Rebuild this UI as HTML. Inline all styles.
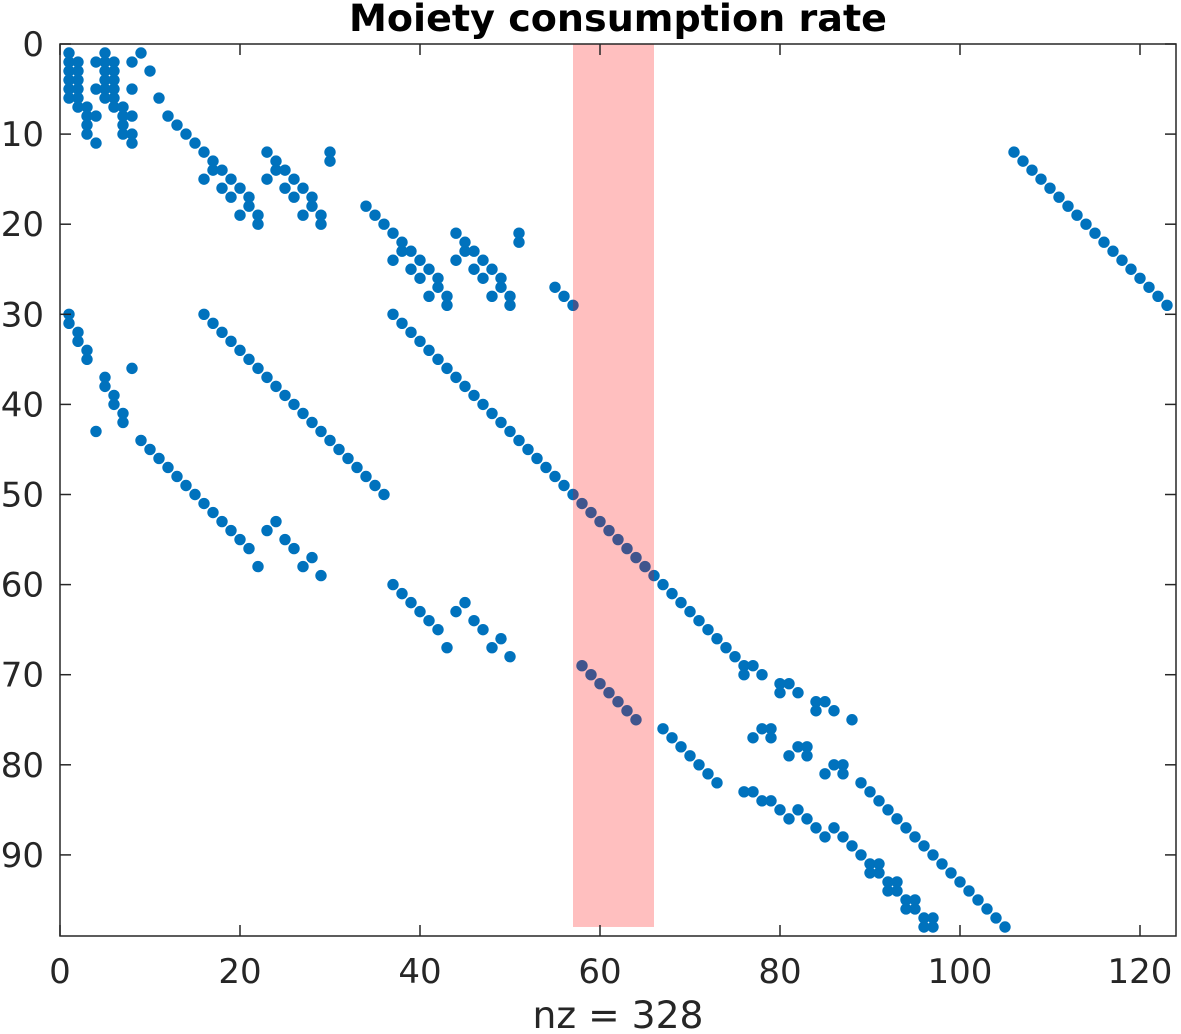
<!DOCTYPE html>
<html><head><meta charset="utf-8"><style>
html,body{margin:0;padding:0;background:#fff;width:1181px;height:1034px;overflow:hidden}
svg text{font-family:"DejaVu Sans","Liberation Sans",sans-serif;fill:#262626}
</style></head><body>
<svg id="chart" width="1181" height="1034" xmlns="http://www.w3.org/2000/svg"></svg>
<script>
const xTicks=[0,20,40,60,80,100,120];
const yTicks=[0,10,20,30,40,50,60,70,80,90];
const xLim=[0,124];
const yLim=[0,99];
const highlightCols=[57,66];
const highlightRows=[0,98];
const nonzeros=[
[1,1],[1,2],[1,3],[1,4],[1,5],[1,6],
[2,2],[2,3],[2,4],[2,5],[2,6],[2,7],
[3,7],[3,8],[3,9],[3,10],
[4,2],[4,5],[4,8],[4,11],
[5,1],[5,2],[5,3],[5,4],[5,5],[5,6],
[6,2],[6,3],[6,4],[6,5],[6,6],[6,7],
[7,7],[7,8],[7,9],[7,10],
[8,2],[8,5],[8,8],[8,10],[8,11],
[9,1],[10,3],[11,6],[12,8],[13,9],[14,10],[15,11],[16,12],[16,15],[17,13],[17,14],[18,14],[18,16],[19,15],[19,17],[20,16],[20,19],[21,17],[21,18],[22,19],[22,20],
[23,12],[23,15],[24,13],[24,14],[25,14],[25,16],[26,15],[26,17],[27,16],[27,19],[28,17],[28,18],[29,19],[29,20],[30,12],[30,13],
[34,18],[35,19],[36,20],[37,21],[37,24],[38,22],[38,23],[39,23],[39,25],[40,24],[40,26],[41,25],[41,28],[42,26],[42,27],[43,28],[43,29],
[44,21],[44,24],[45,22],[45,23],[46,23],[46,25],[47,24],[47,26],[48,25],[48,28],[49,26],[49,27],[50,28],[50,29],[51,21],[51,22],
[55,27],[56,28],[57,29],
[106,12],[107,13],[108,14],[109,15],[110,16],[111,17],[112,18],[113,19],[114,20],[115,21],[116,22],[117,23],[118,24],[119,25],[120,26],[121,27],[122,28],[123,29],
[1,30],[1,31],[2,32],[2,33],[3,34],[3,35],[8,36],[5,37],[5,38],[6,39],[6,40],[7,41],[7,42],[4,43],
[9,44],[10,45],[11,46],[12,47],[13,48],[14,49],[15,50],[16,51],[17,52],[18,53],[19,54],[20,55],[21,56],
[22,58],[23,54],[24,53],[25,55],[26,56],[27,58],[28,57],[29,59],
[16,30],[17,31],[18,32],[19,33],[20,34],[21,35],[22,36],[23,37],[24,38],[25,39],[26,40],[27,41],[28,42],[29,43],[30,44],[31,45],[32,46],[33,47],[34,48],[35,49],[36,50],
[37,30],[38,31],[39,32],[40,33],[41,34],[42,35],[43,36],[44,37],[45,38],[46,39],[47,40],[48,41],[49,42],[50,43],[51,44],[52,45],[53,46],[54,47],[55,48],[56,49],[57,50],[58,51],[59,52],[60,53],[61,54],[62,55],[63,56],[64,57],[65,58],[66,59],[67,60],[68,61],[69,62],[70,63],[71,64],[72,65],[73,66],[74,67],[75,68],
[76,69],[77,69],[76,70],[78,70],[80,71],[81,71],[80,72],[82,72],[84,73],[85,73],[84,74],[86,74],[88,75],
[37,60],[38,61],[39,62],[40,63],[41,64],[42,65],[43,67],[44,63],[45,62],[46,64],[47,65],[48,67],[49,66],[50,68],
[58,69],[59,70],[60,71],[61,72],[62,73],[63,74],[64,75],
[67,76],[68,77],[69,78],[70,79],[71,80],[72,81],[73,82],
[77,77],[78,76],[79,76],[79,77],[81,79],[82,78],[83,78],[83,79],[85,81],[86,80],[87,80],[87,81],
[89,82],[90,83],[91,84],[92,85],[93,86],[94,87],[95,88],[96,89],[97,90],[98,91],[99,92],[100,93],[101,94],[102,95],[103,96],[104,97],[105,98],
[76,83],[77,83],[78,84],[79,84],[80,85],[81,86],[82,85],[83,86],[84,87],[85,88],[86,87],[87,88],[88,89],[89,90],
[90,91],[91,91],[90,92],[91,92],[92,93],[93,93],[92,94],[93,94],[94,95],[95,95],[94,96],[95,96],[96,97],[97,97],[96,98],[97,98]
];
const nzLabel="nz = 328";
const titleText="Moiety consumption rate";

const NS="http://www.w3.org/2000/svg";
const svg=document.getElementById('chart');
const L=60,R=1176,T=44,B=936;
function sx(c){return L+(c-xLim[0])/(xLim[1]-xLim[0])*(R-L);}
function sy(r){return T+(r-yLim[0])/(yLim[1]-yLim[0])*(B-T);}
function mk(tag,attrs,parent){const e=document.createElementNS(NS,tag);for(const k in attrs)e.setAttribute(k,attrs[k]);(parent||svg).appendChild(e);return e;}

const bg=mk('rect',{x:L,y:T,width:R-L,height:B-T,fill:'#fff'});



const dots=mk('g',{fill:'#0072BD'});


nonzeros.forEach(p=>{
  const c=mk('circle',{cx:sx(p[0]),cy:sy(p[1]),r:5.7},dots);
  
  
});

const hl=mk('rect',{x:sx(highlightCols[0]),y:sy(highlightRows[0]),width:sx(highlightCols[1])-sx(highlightCols[0]),height:sy(highlightRows[1])-sy(highlightRows[0]),fill:'#ff0000','fill-opacity':0.25});



const frame=mk('rect',{x:L,y:T,width:R-L,height:B-T,fill:'none',stroke:'#262626','stroke-width':1.5});



xTicks.forEach(v=>{
  const x=sx(v);
  mk('line',{x1:x,y1:B,x2:x,y2:B-11,stroke:'#262626','stroke-width':1.5});
  mk('line',{x1:x,y1:T,x2:x,y2:T+11,stroke:'#262626','stroke-width':1.5});
  const t=mk('text',{x:x,y:B+47,'font-size':34,'text-anchor':'middle'});
  t.textContent=v;
  
  
});
yTicks.forEach(v=>{
  const y=sy(v);
  mk('line',{x1:L,y1:y,x2:L+11,y2:y,stroke:'#262626','stroke-width':1.5});
  mk('line',{x1:R,y1:y,x2:R-11,y2:y,stroke:'#262626','stroke-width':1.5});
  const t=mk('text',{x:L-16,y:y+12,'font-size':34,'text-anchor':'end'});
  t.textContent=v;
  
  
});
const xl=mk('text',{x:618,y:1028,'font-size':37,'text-anchor':'middle',textLength:171,lengthAdjust:'spacingAndGlyphs'});
xl.textContent=nzLabel;


const ti=mk('text',{x:618,y:31,'font-size':37,'font-weight':'bold','text-anchor':'middle',textLength:538,lengthAdjust:'spacingAndGlyphs',style:'fill:#000'});
ti.textContent=titleText;


</script>
</body></html>
